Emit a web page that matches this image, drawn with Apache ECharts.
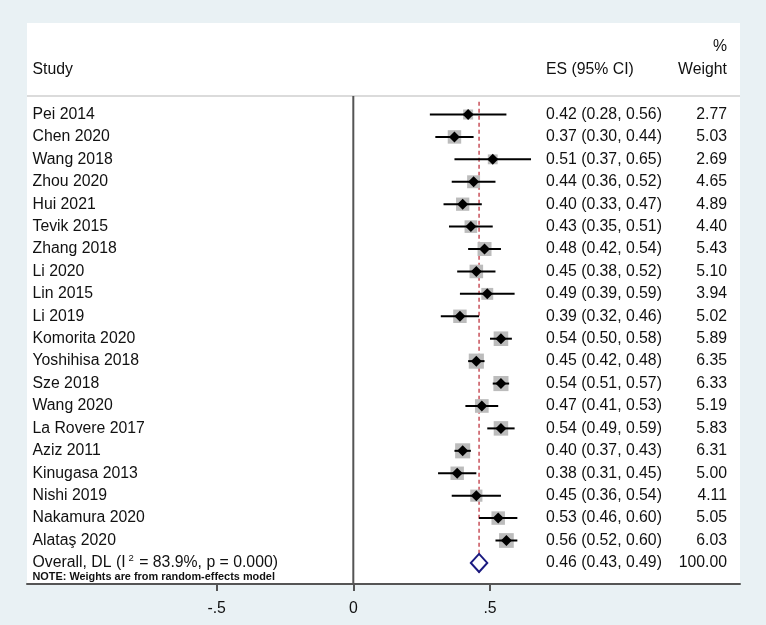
<!DOCTYPE html>
<html><head><meta charset="utf-8">
<script src="https://cdn.jsdelivr.net/npm/echarts@6/dist/echarts.min.js"></script>
<style>html,body{margin:0;padding:0;background:#e9f1f4}#c{width:766px;height:625px}</style>
</head><body><div id="c"></div>
<script>
// ---- data ----
const studies = ['Pei 2014','Chen 2020','Wang 2018','Zhou 2020','Hui 2021','Tevik 2015','Zhang 2018','Li 2020','Lin 2015','Li 2019','Komorita 2020','Yoshihisa 2018','Sze 2018','Wang 2020','La Rovere 2017','Aziz 2011','Kinugasa 2013','Nishi 2019','Nakamura 2020','Alataş 2020'];
const es     = [0.42,0.37,0.51,0.44,0.40,0.43,0.48,0.45,0.49,0.39,0.54,0.45,0.54,0.47,0.54,0.40,0.38,0.45,0.53,0.56];
const ciLow  = [0.28,0.30,0.37,0.36,0.33,0.35,0.42,0.38,0.39,0.32,0.50,0.42,0.51,0.41,0.49,0.37,0.31,0.36,0.46,0.52];
const ciHigh = [0.56,0.44,0.65,0.52,0.47,0.51,0.54,0.52,0.59,0.46,0.58,0.48,0.57,0.53,0.59,0.43,0.45,0.54,0.60,0.60];
const weights= [2.77,5.03,2.69,4.65,4.89,4.40,5.43,5.10,3.94,5.02,5.89,6.35,6.33,5.19,5.83,6.31,5.00,4.11,5.05,6.03];
const overallES = 0.46, overallLow = 0.43, overallHigh = 0.49, overallWeight = 100.00;
const overallText = 'Overall, DL (I{sup|2} = 83.9%, p = 0.000)';
const noteText = 'NOTE: Weights are from random-effects model';
const headerStudy = 'Study', headerES = 'ES (95% CI)', headerPct = '%', headerWeight = 'Weight';
const tickValues = [-0.5, 0, 0.5];
const tickLabels = ['-.5', '0', '.5'];

// ---- layout constants ----
const FONT = '"Liberation Sans", Arial, Helvetica, sans-serif';
const FS = 15.8;
const TXT = '#111';
const X_NAME = -1.1734, X_ES = 0.7048, X_W = 1.3668;
const XMIN = -1.1935, XMAX = 1.4144, YMIN = -4.081, YMAX = 20.94;
const ROW_HEAD1 = -3.02, ROW_HEAD2 = -1.985, ROW_SEP = -0.825, ROW_NOTE = 20.64;
const REF_TOP = -0.57, REF_BOT = 20.45;
const N = studies.length;

const f2 = v => v.toFixed(2);
const esStr = i => f2(es[i]) + ' (' + f2(ciLow[i]) + ', ' + f2(ciHigh[i]) + ')';

function txt(api, x, row, text, align, extra) {
  const p = api.coord([x, row]);
  return { type: 'text', x: p[0], y: p[1], style: Object.assign({
    text: text, fill: TXT, fontSize: FS, fontFamily: FONT, align: align, verticalAlign: 'middle'
  }, extra || {}) };
}

const chart = echarts.init(document.getElementById('c'), null, { renderer: 'canvas' });
chart.setOption({
  backgroundColor: '#e9f1f4',
  animation: false,
  grid: { left: 27, top: 23, width: 713, height: 561, show: true, backgroundColor: '#ffffff', borderWidth: 0 },
  xAxis: {
    type: 'value', min: XMIN, max: XMAX,
    axisLine: { show: true, onZero: false, lineStyle: { color: '#555', width: 2 } },
    axisTick: { show: true, customValues: tickValues, length: 7, lineStyle: { color: '#555', width: 2 } },
    axisLabel: { customValues: tickValues, margin: 17, fontSize: FS, fontFamily: FONT, color: TXT,
      formatter: v => { const k = tickValues.findIndex(t => Math.abs(t - v) < 1e-9); return k >= 0 ? tickLabels[k] : ''; } },
    splitLine: { show: false }
  },
  yAxis: { type: 'value', inverse: true, min: YMIN, max: YMAX, show: false, splitLine: { show: false } },
  series: [
    { // frame lines: header separator, zero line, reference dashed line
      type: 'custom', z: 1, silent: true,
      data: [[0]],
      renderItem: (params, api) => {
        const a = api.coord([XMIN, ROW_SEP]), b = api.coord([XMAX, ROW_SEP]);
        const z1 = api.coord([0, ROW_SEP]), z2 = api.coord([0, YMAX]);
        const r1 = api.coord([overallES, REF_TOP]), r2 = api.coord([overallES, REF_BOT]);
        return { type: 'group', children: [
          { type: 'line', shape: { x1: a[0], y1: a[1], x2: b[0], y2: b[1] }, style: { stroke: '#cfcfcf', lineWidth: 1.5 } },
          { type: 'line', shape: { x1: z1[0], y1: z1[1], x2: z2[0], y2: z2[1] }, style: { stroke: '#555', lineWidth: 2 } },
          { type: 'line', shape: { x1: r1[0], y1: r1[1], x2: r2[0], y2: r2[1] }, style: { stroke: '#c8505a', lineWidth: 1.5, lineDash: [4, 3] } }
        ] };
      }
    },
    { // study boxes, CIs and points
      type: 'custom', z: 2, silent: true,
      data: studies.map((s, i) => [es[i], ciLow[i], ciHigh[i], weights[i], i]),
      renderItem: (params, api) => {
        const row = api.value(4);
        const c = api.coord([api.value(0), row]);
        const lo = api.coord([api.value(1), row]);
        const hi = api.coord([api.value(2), row]);
        const side = 6 * Math.sqrt(api.value(3));
        return { type: 'group', children: [
          { type: 'rect', shape: { x: c[0] - side / 2, y: c[1] - side / 2, width: side, height: side }, style: { fill: '#bcbcbc' } },
          { type: 'line', shape: { x1: lo[0], y1: lo[1], x2: hi[0], y2: hi[1] }, style: { stroke: '#000', lineWidth: 2 } },
          { type: 'polygon', shape: { points: [[c[0] - 5.5, c[1]], [c[0], c[1] - 5.5], [c[0] + 5.5, c[1]], [c[0], c[1] + 5.5]] }, style: { fill: '#000' } }
        ] };
      }
    },
    { // overall diamond
      type: 'custom', z: 3, silent: true,
      data: [[overallES, overallLow, overallHigh, N]],
      renderItem: (params, api) => {
        const row = api.value(3);
        const c = api.coord([api.value(0), row]);
        const lo = api.coord([api.value(1), row]);
        const hi = api.coord([api.value(2), row]);
        const h = 9;
        return { type: 'polygon', shape: { points: [[lo[0], c[1]], [c[0], c[1] - h], [hi[0], c[1]], [c[0], c[1] + h]] },
          style: { fill: '#fff', stroke: '#1a1a80', lineWidth: 2 } };
      }
    },
    { // texts
      type: 'custom', z: 4, silent: true,
      data: [[0]],
      renderItem: (params, api) => {
        const ch = [];
        ch.push(txt(api, X_NAME, ROW_HEAD2, headerStudy, 'left'));
        ch.push(txt(api, X_ES, ROW_HEAD2, headerES, 'left'));
        ch.push(txt(api, X_W, ROW_HEAD1, headerPct, 'right'));
        ch.push(txt(api, X_W, ROW_HEAD2, headerWeight, 'right'));
        for (let i = 0; i < N; i++) {
          ch.push(txt(api, X_NAME, i, studies[i], 'left'));
          ch.push(txt(api, X_ES, i, esStr(i), 'left'));
          ch.push(txt(api, X_W, i, f2(weights[i]), 'right'));
        }
        ch.push(txt(api, X_NAME, N, overallText, 'left', {
          lineHeight: 19,
          rich: { sup: { fontSize: 9.5, lineHeight: 9, fontFamily: FONT, fill: TXT, verticalAlign: 'top', padding: [0, 1, 0, 3] } }
        }));
        ch.push(txt(api, X_ES, N, f2(overallES) + ' (' + f2(overallLow) + ', ' + f2(overallHigh) + ')', 'left'));
        ch.push(txt(api, X_W, N, f2(overallWeight), 'right'));
        ch.push(txt(api, X_NAME, ROW_NOTE, noteText, 'left', { fontSize: 10.9, fontWeight: 'bold' }));
        return { type: 'group', children: ch };
      }
    }
  ]
});
</script>
</body></html>
